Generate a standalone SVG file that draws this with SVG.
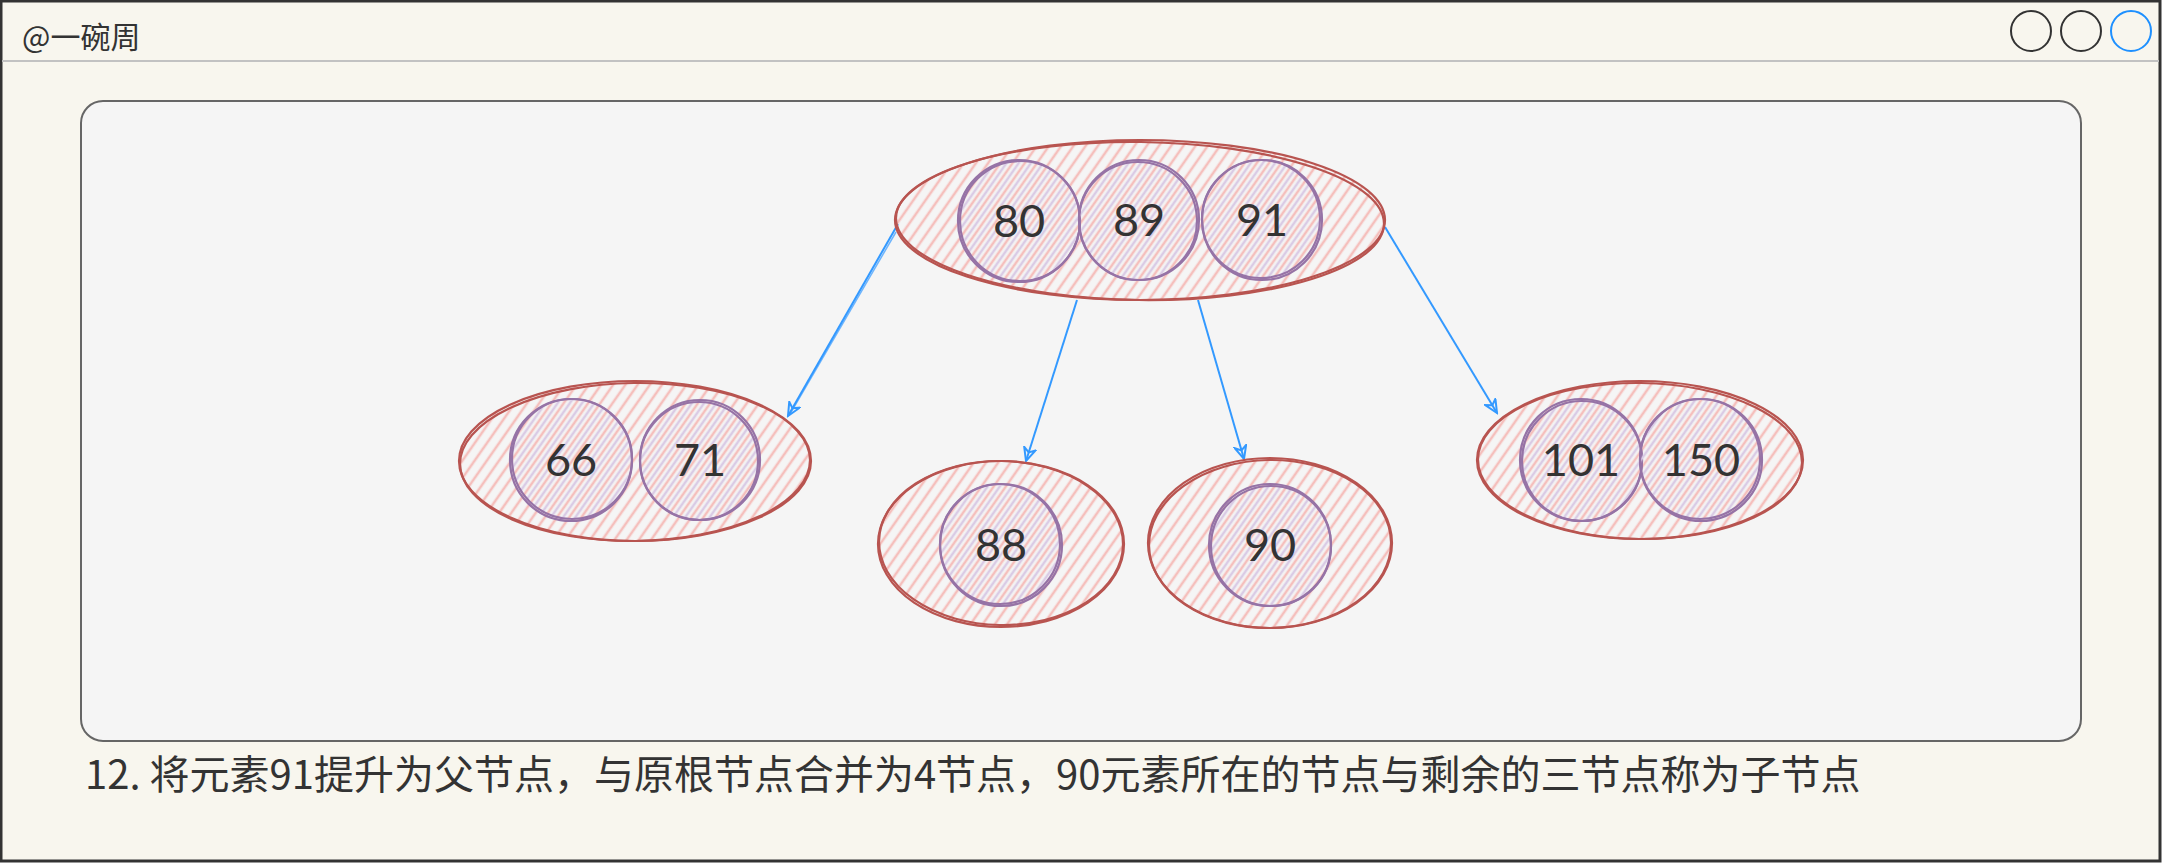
<svg xmlns="http://www.w3.org/2000/svg" width="2162" height="864" viewBox="0 0 2162 864">
<style>
.pf{fill:url(#hp)}
.pl{fill:none;stroke:#b85450;stroke-width:2.2}
.cf{fill:url(#hl)}
.cl{fill:none;stroke:#9673a6;stroke-width:2.2}
.num{font-family:Lato,"Noto Sans",sans-serif;font-size:45px;fill:#333;text-anchor:middle}
.cap{font-family:"Noto Sans CJK SC","Noto Sans",sans-serif;fill:#333}
.conn{fill:none;stroke:#3399ff;stroke-width:2;marker-end:url(#ah)}
</style>
<defs>
<pattern id="hp" width="10" height="10" patternUnits="userSpaceOnUse" patternTransform="rotate(35)">
<line x1="3" y1="0" x2="3" y2="10" stroke="#f5bfbc" stroke-width="2.6"/>
</pattern>
<pattern id="hl" width="10" height="10" patternUnits="userSpaceOnUse" patternTransform="rotate(35)">
<line x1="8" y1="0" x2="8" y2="10" stroke="#dacbe5" stroke-width="2.6"/>
</pattern>
<marker id="ah" markerWidth="16" markerHeight="14" refX="14" refY="7" orient="auto" markerUnits="userSpaceOnUse">
<path d="M1,1 L14,7 L1,13 L5,7 Z" fill="none" stroke="#3399ff" stroke-width="2"/>
</marker>
</defs>
<rect x="1" y="1" width="2159" height="860" fill="#f8f6ee" stroke="#333" stroke-width="3"/>
<line x1="2" y1="61" x2="2159" y2="61" stroke="#c2c2c2" stroke-width="2"/>
<text x="22" y="48" class="cap" font-size="30">@一碗周</text>
<circle cx="2031" cy="31" r="20" fill="none" stroke="#333" stroke-width="2"/>
<circle cx="2081" cy="31" r="20" fill="none" stroke="#333" stroke-width="2"/>
<circle cx="2131" cy="31" r="20" fill="none" stroke="#1e90ff" stroke-width="2"/>
<rect x="81" y="101" width="2000" height="640" rx="22" fill="#f5f5f5" stroke="#666" stroke-width="2"/>

<g id="connectors">
<path class="conn" d="M898,224 L788,416"/>
<path d="M896,232 L790,414" fill="none" stroke="#3399ff" stroke-width="1.5" stroke-opacity="0.7"/>
<path class="conn" d="M1077,300 L1026,461"/>
<path class="conn" d="M1198,300 L1244,459"/>
<path class="conn" d="M1385,227 L1497,413"/>
</g>

<g id="node-top">
<ellipse cx="1140" cy="220" rx="245" ry="80" class="pf"/>
<ellipse cx="1140" cy="220" rx="245" ry="80" class="pl"/>
<ellipse cx="1140" cy="221" rx="244" ry="79" class="pl" transform="rotate(0.7 1140 220)"/>
<g id="n80"><circle cx="1019" cy="221" r="61" class="cf"/><circle cx="1019" cy="221" r="61" class="cl"/><circle cx="1020" cy="221" r="60" class="cl"/><text x="1019" y="237" class="num">80</text></g>
<g id="n89"><circle cx="1139" cy="220" r="60" class="cf"/><circle cx="1139" cy="220" r="60" class="cl"/><circle cx="1138" cy="221" r="59" class="cl"/><text x="1139" y="236" class="num">89</text></g>
<g id="n91"><circle cx="1262" cy="220" r="60" class="cf"/><circle cx="1262" cy="220" r="60" class="cl"/><circle cx="1261" cy="219" r="59" class="cl"/><text x="1262" y="236" class="num">91</text></g>
</g>

<g id="node-left">
<ellipse cx="635" cy="461" rx="176" ry="80" class="pf"/>
<ellipse cx="635" cy="461" rx="176" ry="80" class="pl"/>
<ellipse cx="635" cy="462" rx="175" ry="79" class="pl" transform="rotate(-0.7 635 461)"/>
<g id="n66"><circle cx="571" cy="460" r="61" class="cf"/><circle cx="571" cy="460" r="61" class="cl"/><circle cx="572" cy="459" r="60" class="cl"/><text x="571" y="476" class="num">66</text></g>
<g id="n71"><circle cx="700" cy="460" r="60" class="cf"/><circle cx="700" cy="460" r="60" class="cl"/><circle cx="699" cy="461" r="59" class="cl"/><text x="700" y="476" class="num">71</text></g>
</g>

<g id="node-88">
<ellipse cx="1001" cy="544" rx="123" ry="83" class="pf"/>
<ellipse cx="1001" cy="544" rx="123" ry="83" class="pl"/>
<ellipse cx="1001" cy="543" rx="122" ry="82" class="pl" transform="rotate(1 1001 544)"/>
<g id="n88"><circle cx="1001" cy="545" r="61" class="cf"/><circle cx="1001" cy="545" r="61" class="cl"/><circle cx="1000" cy="544" r="60" class="cl"/><text x="1001" y="561" class="num">88</text></g>
</g>

<g id="node-90">
<ellipse cx="1270" cy="543" rx="122" ry="85" class="pf"/>
<ellipse cx="1270" cy="543" rx="122" ry="85" class="pl"/>
<ellipse cx="1270" cy="544" rx="121" ry="84" class="pl" transform="rotate(-1 1270 543)"/>
<g id="n90"><circle cx="1270" cy="545" r="61" class="cf"/><circle cx="1270" cy="545" r="61" class="cl"/><circle cx="1271" cy="546" r="60" class="cl"/><text x="1270" y="561" class="num">90</text></g>
</g>

<g id="node-right">
<ellipse cx="1640" cy="460" rx="163" ry="79" class="pf"/>
<ellipse cx="1640" cy="460" rx="163" ry="79" class="pl"/>
<ellipse cx="1640" cy="461" rx="162" ry="78" class="pl" transform="rotate(0.7 1640 460)"/>
<g id="n101"><circle cx="1581" cy="460" r="61" class="cf"/><circle cx="1581" cy="460" r="61" class="cl"/><circle cx="1582" cy="461" r="60" class="cl"/><text x="1581" y="476" class="num">101</text></g>
<g id="n150"><circle cx="1701" cy="460" r="61" class="cf"/><circle cx="1701" cy="460" r="61" class="cl"/><circle cx="1700" cy="459" r="60" class="cl"/><text x="1701" y="476" class="num">150</text></g>
</g>

<text x="85" y="789" class="cap" font-size="40">12. 将元素91提升为父节点，与原根节点合并为4节点，90元素所在的节点与剩余的三节点称为子节点</text>
</svg>
